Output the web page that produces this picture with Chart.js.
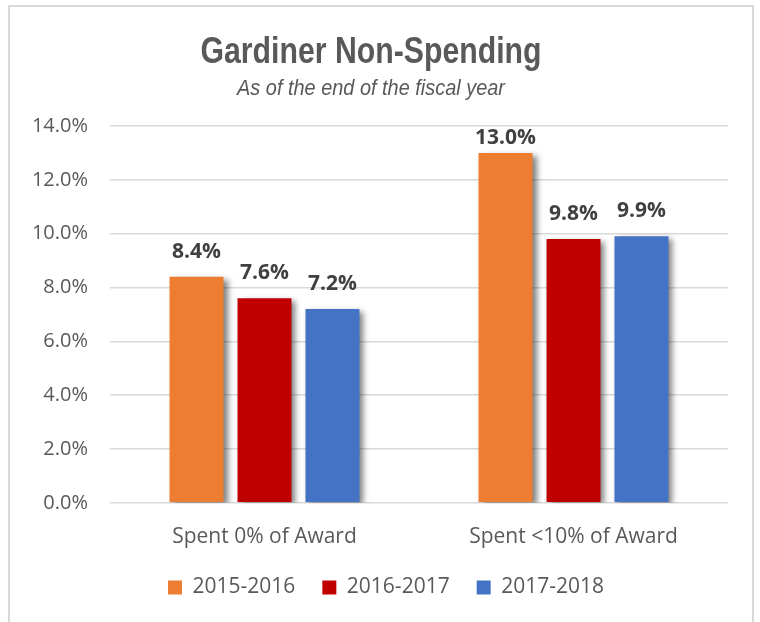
<!DOCTYPE html>
<html>
<head>
<meta charset="utf-8">
<script src="https://cdn.jsdelivr.net/npm/chart.js@4.4.0/dist/chart.umd.min.js"></script>
<style>
  html, body { margin: 0; padding: 0; background: #ffffff; }
  #wrap { position: relative; width: 760px; height: 622px; overflow: hidden; }
  #frame { position: absolute; left: 8px; top: 5px; width: 742px; height: 700px; border: 2px solid #d9d9d9; box-sizing: content-box; }
  #c { position: absolute; left: 0; top: 0; }
</style>
</head>
<body>
<div id="wrap">
  <div id="frame"></div>
  <canvas id="c" width="760" height="622"></canvas>
</div>
<script>
const categories = ["Spent 0% of Award", "Spent <10% of Award"];
const seriesNames = ["2015-2016", "2016-2017", "2017-2018"];
const values2015 = [8.4, 13.0];
const values2016 = [7.6, 9.8];
const values2017 = [7.2, 9.9];
const seriesColors = ["#ED7D31", "#C00000", "#4472C4"];
const yTicks = [0, 2, 4, 6, 8, 10, 12, 14];
const titleText = "Gardiner Non-Spending";
const subtitleText = "As of the end of the fiscal year";

const shadowPlugin = {
  id: 'barShadow',
  beforeDatasetsDraw(chart) {
    const ctx = chart.ctx;
    ctx.save();
    ctx.shadowColor = 'rgba(0,0,0,0.5)';
    ctx.shadowBlur = 6;
    ctx.shadowOffsetX = 4;
    ctx.shadowOffsetY = 3;
  },
  afterDatasetsDraw(chart) {
    chart.ctx.restore();
  }
};

const labelPlugin = {
  id: 'valueLabels',
  afterDraw(chart) {
    const ctx = chart.ctx;
    ctx.save();
    ctx.font = 'bold 21px "Open Sans"';
    ctx.fillStyle = '#404040';
    ctx.textAlign = 'center';
    ctx.textBaseline = 'middle';
    chart.data.datasets.forEach((ds, i) => {
      const meta = chart.getDatasetMeta(i);
      meta.data.forEach((el, j) => {
        const y = Math.max(el.y - 25, chart.chartArea.top + 12);
        ctx.fillText(ds.data[j].toFixed(1) + '%', el.x, y);
      });
    });
    ctx.restore();
  }
};

// condensed title + subtitle (Arial Narrow look), drawn as canvas text
const titlePlugin = {
  id: 'condensedTitle',
  afterDraw(chart) {
    const ctx = chart.ctx;
    ctx.save();
    ctx.fillStyle = '#595959';
    ctx.textAlign = 'center';
    ctx.textBaseline = 'alphabetic';
    ctx.save();
    ctx.translate(371, 63);
    ctx.scale(0.84, 1);
    ctx.font = 'bold 36px "Liberation Sans", Arial';
    ctx.fillText(titleText, 0, 0);
    ctx.restore();
    ctx.save();
    ctx.translate(371, 95);
    ctx.scale(0.905, 1);
    ctx.font = 'italic 22px "Liberation Sans", Arial';
    ctx.fillText(subtitleText, 0, 0);
    ctx.restore();
    ctx.restore();
  }
};

const legendShift = {
  id: 'legendShift',
  afterLayout(chart) {
    const lg = chart.legend;
    if (lg) {
      lg.left += 17;
      lg.right += 17;
      lg.top -= 22;
      lg.bottom -= 22;
    }
  }
};

const allSeries = [values2015, values2016, values2017];

new Chart(document.getElementById('c'), {
  type: 'bar',
  data: {
    labels: categories,
    datasets: allSeries.map((vals, i) => ({
      label: seriesNames[i],
      data: vals,
      backgroundColor: seriesColors[i],
      borderWidth: 0,
      categoryPercentage: 0.66,
      barPercentage: 0.794
    }))
  },
  options: {
    responsive: false,
    animation: false,
    devicePixelRatio: 1,
    layout: { padding: { left: 10, right: 32, top: 126, bottom: -8 } },
    plugins: {
      title: { display: false },
      subtitle: { display: false },
      legend: {
        position: 'bottom',
        labels: {
          boxWidth: 14,
          boxHeight: 14,
          padding: 27,
          color: '#595959',
          font: { family: '"Open Sans"', size: 21 }
        }
      },
      tooltip: { enabled: false }
    },
    scales: {
      x: {
        grid: { display: false, drawTicks: false },
        border: { display: false },
        ticks: { color: '#595959', font: { family: '"Open Sans"', size: 21 }, padding: 22 }
      },
      y: {
        min: 0,
        max: 14,
        afterFit(s) { s.width = 100; },
        afterBuildTicks(s) { s.ticks = yTicks.map(v => ({ value: v })); },
        grid: { color: '#d9d9d9', lineWidth: 1.5, drawTicks: false },
        border: { display: false },
        ticks: {
          color: '#595959',
          font: { family: '"Open Sans"', size: 20 },
          padding: 22,
          callback: v => v.toFixed(1) + '%'
        }
      }
    }
  },
  plugins: [shadowPlugin, labelPlugin, titlePlugin, legendShift]
});
</script>
</body>
</html>
